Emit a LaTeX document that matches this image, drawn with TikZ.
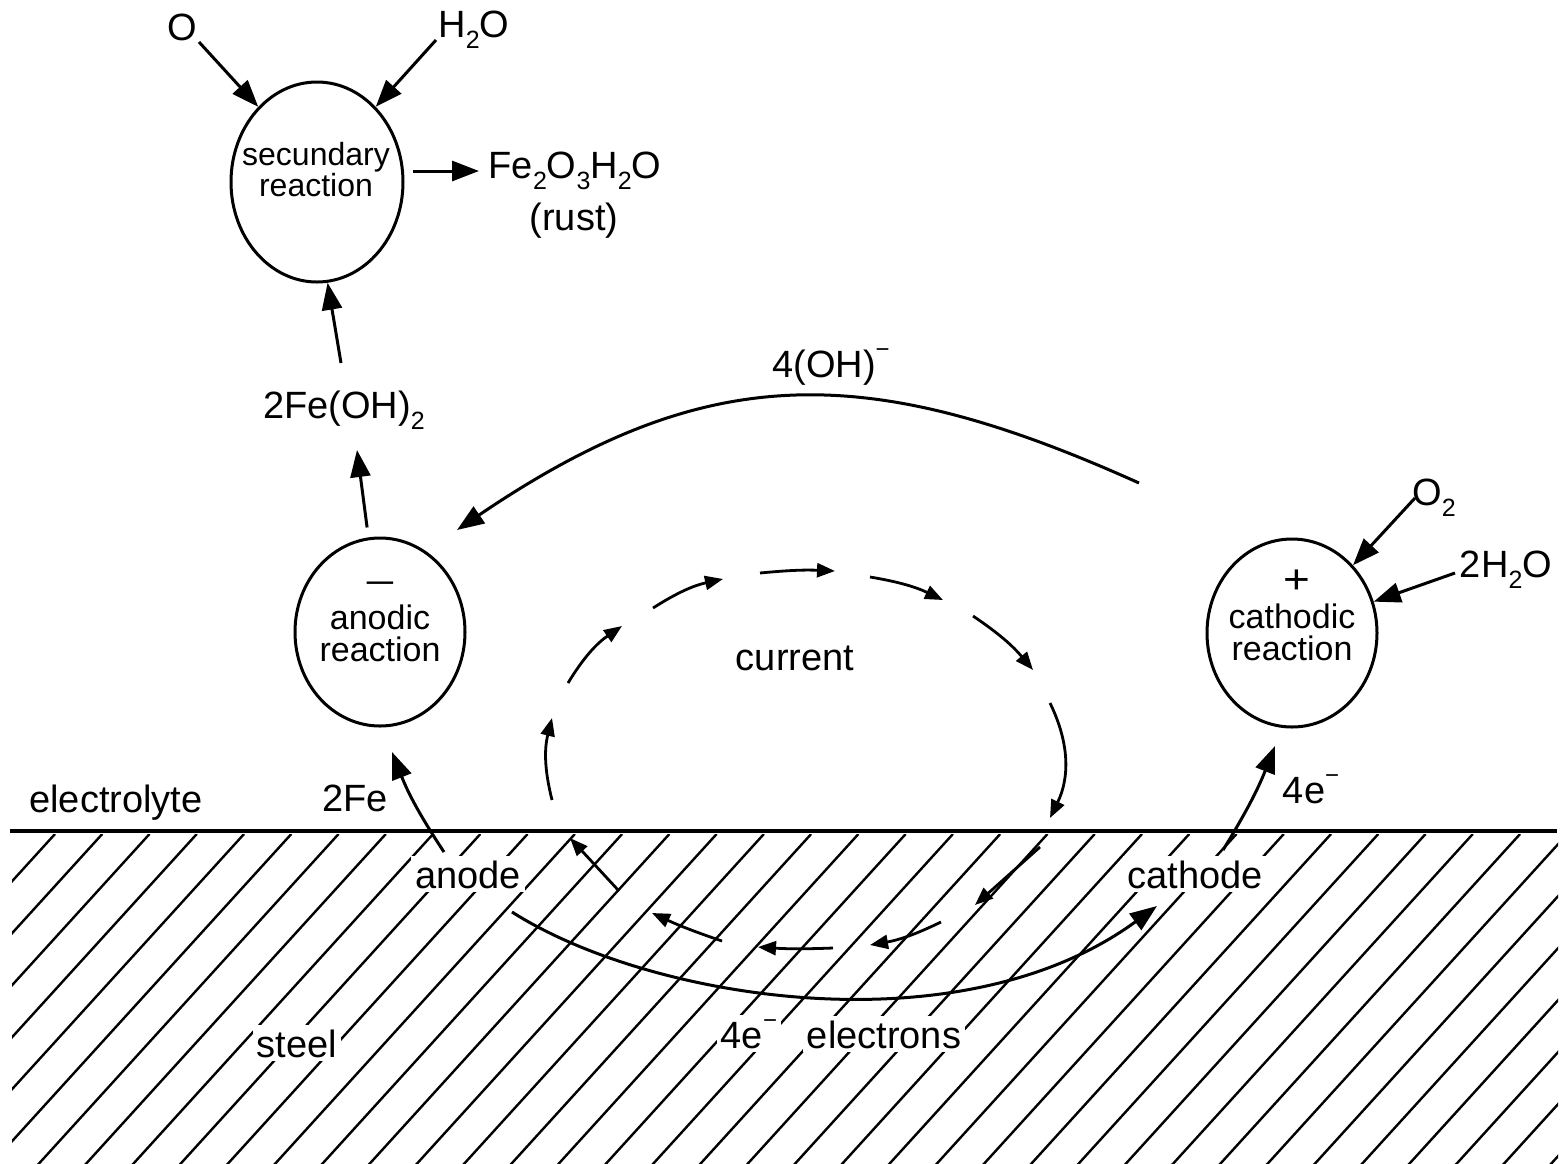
\documentclass[tikz,border=0pt]{standalone}
\usepackage{fontspec}
\setmainfont{Liberation Sans}
\usetikzlibrary{arrows.meta,shapes.geometric}
\newcommand{\lsub}[1]{\raisebox{-11pt}{\fontsize{25}{25}\selectfont #1}}
\newcommand{\lsup}{\raisebox{20pt}{\fontsize{24}{24}\selectfont −}}
\tikzset{
  lbl/.style={font=\fontsize{38}{40}\selectfont, inner sep=0pt, anchor=base},
  ctxt/.style={font=\fontsize{34}{36}\selectfont, inner sep=0pt, anchor=base},
  stxt/.style={font=\fontsize{32}{34}\selectfont, inner sep=0pt, anchor=base},
  sign/.style={font=\fontsize{34}{34}\selectfont, inner sep=0pt, anchor=base},
  wlbl/.style={lbl, fill=white, inner sep=4pt},
  reac/.style={ellipse, draw, line width=3pt, inner sep=0pt},
  bigarrow/.style={line width=3pt, -{Triangle[length=27pt,width=20pt]}},
  smallarrow/.style={line width=2.8pt, -{Triangle[length=18pt,width=14pt]}},
  hatchline/.style={line width=2.4pt},
  surface/.style={line width=4.5pt}
}
\begin{document}
\begin{tikzpicture}[x=1pt,y=-1pt]
\useasboundingbox (0,0) rectangle (1561,1163);

% steel hatching
\begin{scope}
  \clip (12,834) rectangle (1558,1163);
  \foreach \k in {0,...,38} \draw[hatchline] ({55+47.26*\k},834) -- ++(-400,440);
\end{scope}
\draw[surface] (10,831) -- (1557,831);

% reaction circles
\node[reac, minimum width=172pt, minimum height=200pt] (sec) at (317,182) {};
\node[reac, minimum width=170pt, minimum height=188pt] (an) at (380,632) {};
\node[reac, minimum width=170pt, minimum height=188pt] (cat) at (1292,633) {};

% texts in circles
\node[stxt] (sec1) at (316,165) {secundary};
\node[stxt] (sec2) at (316,196) {reaction};
\node[sign] (minus) at (380,594) {\scalebox{1.6}[1]{−}};
\node[ctxt] (an1) at (380,629) {anodic};
\node[ctxt] (an2) at (380,661) {reaction};
\node[sign] (plus) at (1297,593) {\scalebox{1.35}[1.2]{+}};
\node[ctxt] (cat1) at (1292,628) {cathodic};
\node[ctxt] (cat2) at (1292,660) {reaction};

% labels
\node[lbl] (o) at (182,40) {O};
\node[lbl] (h2o) at (474,37) {H\lsub{2}O};
\node[lbl] (fe) at (575,178) {Fe\lsub{2}O\lsub{3}H\lsub{2}O};
\node[lbl] (rust) at (574,230) {(rust)};
\node[lbl] (feoh) at (344,418) {2Fe(OH)\lsub{2}};
\node[lbl] (oh) at (831,377) {4(OH)\lsup};
\node[lbl] (cur) at (795,670) {current};
\node[lbl] (o2) at (1434,505) {O\lsub{2}};
\node[lbl] (h2o2) at (1506,577) {2H\lsub{2}O};
\node[lbl] (e4a) at (1311,803) {4e\lsup};
\node[lbl] (fe2) at (355,811) {2Fe};
\node[lbl] (elyte) at (116,812) {electrolyte};
\node[wlbl] (anode) at (468,888) {anode};
\node[wlbl] (cathode) at (1195,888) {cathode};
\node[wlbl] (steel) at (297,1057) {steel};
\node[wlbl] (e4b) at (749,1048) {4e\lsup};
\node[wlbl] (elec) at (884,1048) {electrons};

% arrow end points
\coordinate (oT) at (199,42);
\coordinate (hT) at (436,40);
\coordinate (feT) at (479,171);
\coordinate (fohS) at (341,363);
\coordinate (fohE) at (357,450);
\coordinate (ohS) at (1139,483);
\coordinate (ohE) at (457,530);
\coordinate (o2S) at (1415,498);
\coordinate (h2S) at (1455,573);
\coordinate (e4S) at (1223,850);
\coordinate (e4E) at (1275,746);
\coordinate (f2S) at (444,852);
\coordinate (f2E) at (392,752);
\coordinate (elS) at (512,912);
\coordinate (elE) at (1157,906);

% secondary reaction arrows
\draw[bigarrow] (oT) -- (sec.128);
\draw[bigarrow] (hT) -- (sec.52);
\draw[bigarrow, shorten <=8pt] (sec.east |- feT) -- (feT);
\draw[bigarrow] (fohS) -- (sec.-84);
\draw[bigarrow, shorten <=10pt] (an.97) -- (fohE);

% hydroxide arc
\draw[bigarrow] (ohS) .. controls (866,360) and (706,361) .. (ohE);

% cathodic inputs
\draw[bigarrow] (o2S) -- (cat.48);
\draw[bigarrow] (h2S) -- (cat.21);
\draw[bigarrow] (e4S) to[bend right=5] (e4E);
\draw[bigarrow] (f2S) to[bend left=6] (f2E);

% electrons
\draw[bigarrow] (elS) .. controls (650,1000) and (960,1050) .. (elE);

% current (electrolyte)
\coordinate (c1s) at (552,800); \coordinate (c1e) at (552,718);
\coordinate (c2s) at (568,683); \coordinate (c2e) at (622,626);
\coordinate (c3s) at (653,608); \coordinate (c3e) at (723,579);
\coordinate (c4s) at (760,573); \coordinate (c4e) at (835,571);
\coordinate (c5s) at (870,577); \coordinate (c5e) at (943,600);
\coordinate (c6s) at (973,616); \coordinate (c6e) at (1033,670);
\coordinate (c7s) at (1050,703); \coordinate (c7e) at (1050,818);
\draw[smallarrow] (c1s) to[bend left=14] (c1e);
\draw[smallarrow] (c2s) to[bend left=12] (c2e);
\draw[smallarrow] (c3s) to[bend left=10] (c3e);
\draw[smallarrow] (c4s) to[bend left=4] (c4e);
\draw[smallarrow] (c5s) to[bend left=8] (c5e);
\draw[smallarrow] (c6s) to[bend left=8] (c6e);
\draw[smallarrow] (c7s) to[bend left=26] (c7e);

% current (steel)
\coordinate (d1s) at (1040,847); \coordinate (d1e) at (975,905);
\coordinate (d2s) at (941,922); \coordinate (d2e) at (870,945);
\coordinate (d3s) at (833,948); \coordinate (d3e) at (758,947);
\coordinate (d4s) at (722,941); \coordinate (d4e) at (652,913);
\coordinate (d5s) at (619,891); \coordinate (d5e) at (570,838);
\draw[smallarrow] (d1s) -- (d1e);
\draw[smallarrow] (d2s) to[bend left=8] (d2e);
\draw[smallarrow] (d3s) to[bend left=3] (d3e);
\draw[smallarrow] (d4s) to[bend left=3] (d4e);
\draw[smallarrow] (d5s) -- (d5e);
\end{tikzpicture}
\end{document}
